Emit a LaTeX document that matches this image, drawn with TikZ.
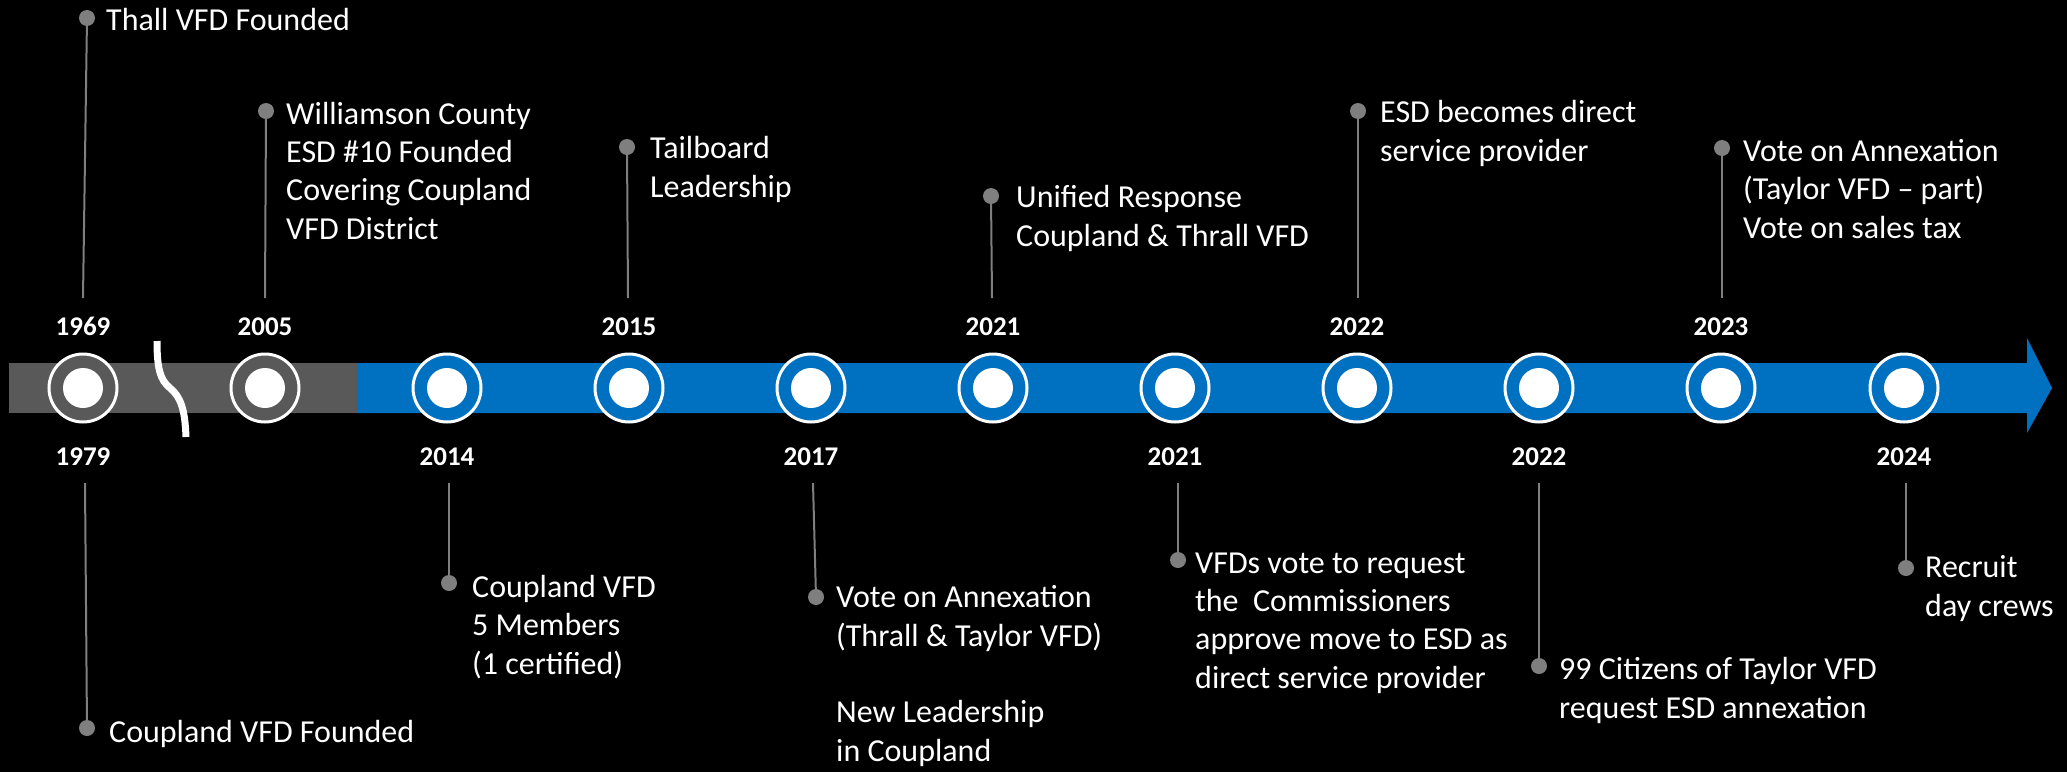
\documentclass[tikz,border=0pt]{standalone}
\usepackage{fontspec}
\setmainfont{Carlito}
\definecolor{bargray}{HTML}{595959}
\definecolor{barblue}{HTML}{0070C0}
\definecolor{stemgray}{HTML}{7F7F7F}
\begin{document}
\begin{tikzpicture}[x=1pt,y=-1pt,
  dot/.style={circle,fill=stemgray,inner sep=0,minimum size=16},
  stem/.style={draw=stemgray,line width=2},
  desc/.style={text=white,inner sep=0,anchor=base west,align=left,font=\fontsize{32}{38.3}\selectfont},
  yr/.style={text=white,inner sep=0,anchor=base,font=\fontsize{27}{32}\selectfont\bfseries},
  ring/.style={circle,draw=white,line width=3,minimum size=68,inner sep=0},
]
\fill[black] (0,0) rectangle (2067,772);
\useasboundingbox (0,0) rectangle (2067,772);
% bar
\fill[bargray] (9,363) rectangle (357,413);
\fill[barblue] (357,363) -- (2027,363) -- (2027,338) -- (2052,388) -- (2027,433) -- (2027,413) -- (357,413) -- cycle;
% break mark
\draw[white,line width=7] (157,341) .. controls (157,368) and (160,380) .. (170,388) .. controls (181,397) and (185,410) .. (186,437);
% circles
\foreach \x/\n/\c in {83/a/bargray,265/b/bargray,447/c/barblue,629/d/barblue,811/e/barblue,993/f/barblue,1175/g/barblue,1357/h/barblue,1539/i/barblue,1721/j/barblue,1904/k/barblue}{
  \node[ring,fill=\c] (c\n) at (\x,388) {};
  \fill[white] (c\n.center) circle (20);
}
% years above
\node[yr] (y1969) at (83,335) {1969};
\node[yr] (y2005) at (265,335) {2005};
\node[yr] (y2015) at (629,335) {2015};
\node[yr] (y2021a) at (993,335) {2021};
\node[yr] (y2022a) at (1357,335) {2022};
\node[yr] (y2023) at (1721,335) {2023};
% years below
\node[yr] (y1979) at (83,465) {1979};
\node[yr] (y2014) at (447,465) {2014};
\node[yr] (y2017) at (811,465) {2017};
\node[yr] (y2021b) at (1175,465) {2021};
\node[yr] (y2022b) at (1539,465) {2022};
\node[yr] (y2024) at (1904,465) {2024};
% top events (node anchored at the baseline of its last line)
\node[dot] (d1969) at (87,18) {};
\coordinate (e1969) at (83,298);
\draw[stem] (d1969) -- (e1969);
\node[desc] (t1969) at (106,30) {Thall VFD Founded};

\node[dot] (d2005) at (266,111) {};
\coordinate (e2005) at (265,298);
\draw[stem] (d2005) -- (e2005);
\node[desc] (t2005) at (286,239) {Williamson County\\ESD \#10 Founded\\Covering Coupland\\VFD District};

\node[dot] (d2015) at (627,147) {};
\coordinate (e2015) at (628,298);
\draw[stem] (d2015) -- (e2015);
\node[desc] (t2015) at (650,197) {Tailboard\\Leadership};

\node[dot] (d2021a) at (991,196) {};
\coordinate (e2021a) at (992,298);
\draw[stem] (d2021a) -- (e2021a);
\node[desc] (t2021a) at (1016,246) {Unified Response\\Coupland \& Thrall VFD};

\node[dot] (d2022a) at (1358,111) {};
\coordinate (e2022a) at (1358,298);
\draw[stem] (d2022a) -- (e2022a);
\node[desc] (t2022a) at (1380,161) {ESD becomes direct\\service provider};

\node[dot] (d2023) at (1722,148) {};
\coordinate (e2023) at (1722,298);
\draw[stem] (d2023) -- (e2023);
\node[desc] (t2023) at (1743,238) {Vote on Annexation\\(Taylor VFD – part)\\Vote on sales tax};
% bottom events
\coordinate (e1979) at (85,483);
\node[dot] (d1979) at (87,728) {};
\draw[stem] (e1979) -- (d1979);
\node[desc] (t1979) at (109,742) {Coupland VFD Founded};

\coordinate (e2014) at (449,483);
\node[dot] (d2014) at (449,583) {};
\draw[stem] (e2014) -- (d2014);
\node[desc] (t2014) at (472,674) {Coupland VFD\\5 Members\\(1 certified)};

\coordinate (e2017) at (813,483);
\node[dot] (d2017) at (816,597) {};
\draw[stem] (e2017) -- (d2017);
\node[desc] (t2017) at (836,761) {Vote on Annexation\\(Thrall \& Taylor VFD)\\[38.3pt]New Leadership\\in Coupland};

\coordinate (e2021b) at (1178,483);
\node[dot] (d2021b) at (1178,560) {};
\draw[stem] (e2021b) -- (d2021b);
\node[desc] (t2021b) at (1195,688) {VFDs vote to request\\the~ Commissioners\\approve move to ESD as\\direct service provider};

\coordinate (e2022b) at (1539,483);
\node[dot] (d2022b) at (1539,666) {};
\draw[stem] (e2022b) -- (d2022b);
\node[desc] (t2022b) at (1559,718) {99 Citizens of Taylor VFD\\request ESD annexation};

\coordinate (e2024) at (1906,483);
\node[dot] (d2024) at (1906,568) {};
\draw[stem] (e2024) -- (d2024);
\node[desc] (t2024) at (1925,616) {Recruit\\day crews};
\end{tikzpicture}
\end{document}
